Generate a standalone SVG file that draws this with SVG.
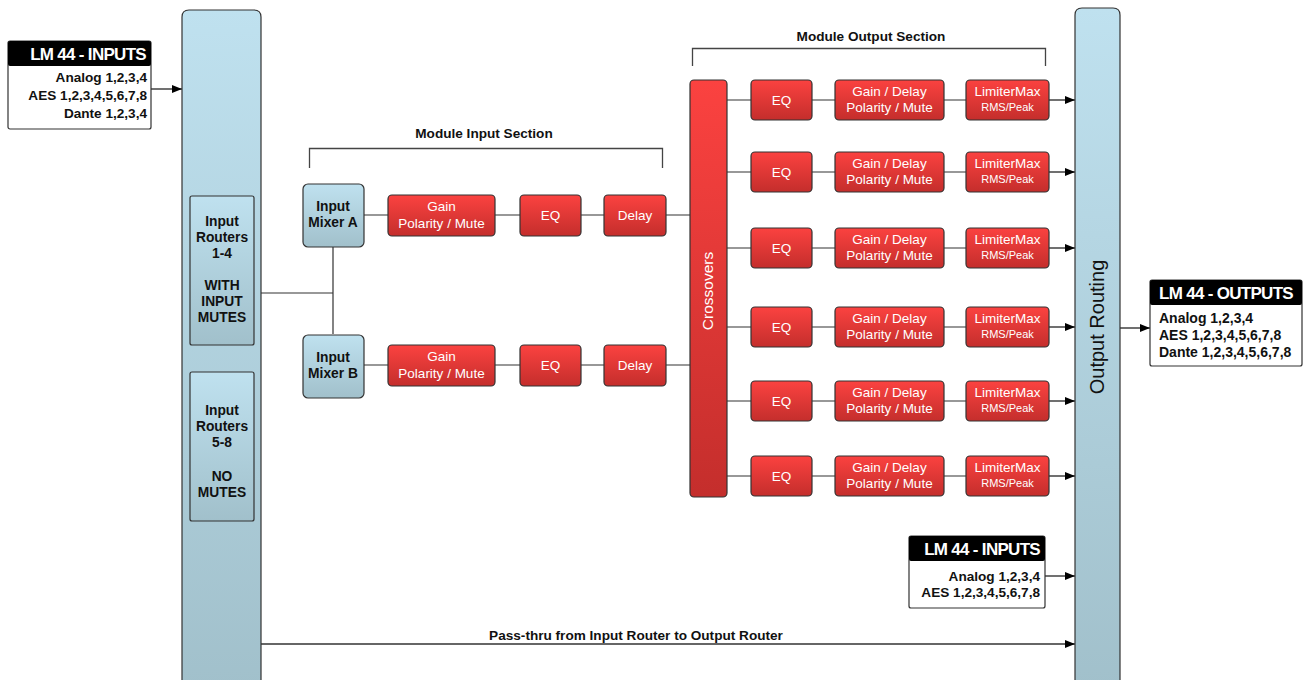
<svg xmlns="http://www.w3.org/2000/svg" width="1303" height="680" viewBox="0 0 1303 680">
<defs>
<linearGradient id="blue" x1="0" y1="0" x2="0" y2="1"><stop offset="0" stop-color="#bfe1ef"/><stop offset="1" stop-color="#a1c0cb"/></linearGradient>
<linearGradient id="red" x1="0" y1="0" x2="0" y2="1"><stop offset="0" stop-color="#fb4240"/><stop offset="1" stop-color="#c42e2c"/></linearGradient>
<marker id="arr" viewBox="0 0 10 8" refX="10" refY="4" markerWidth="10" markerHeight="8" markerUnits="userSpaceOnUse" orient="auto"><path d="M0,0 L10,4 L0,8 Z" fill="#000"/></marker>
<style>
.col{fill:url(#blue);stroke:#333;stroke-width:1.2}
.bn{fill:url(#blue);stroke:#333;stroke-width:1.2}
.rn{fill:url(#red);stroke:#333;stroke-width:1.2}
.bt{font-family:"Liberation Sans",Arial,sans-serif;font-weight:bold;font-size:13.8px;fill:#111;text-anchor:middle}
.wt{font-family:"Liberation Sans",Arial,sans-serif;font-size:13.5px;fill:#fff;text-anchor:middle}
.st{font-family:"Liberation Sans",Arial,sans-serif;font-size:11px;fill:#fff;text-anchor:middle}
.hd{font-family:"Liberation Sans",Arial,sans-serif;font-weight:bold;font-size:17px;fill:#fff;letter-spacing:-0.7px}
.lb{font-family:"Liberation Sans",Arial,sans-serif;font-weight:bold;font-size:13.6px;fill:#111}
.lo{font-family:"Liberation Sans",Arial,sans-serif;font-weight:bold;font-size:14px;fill:#111}
.sec{font-family:"Liberation Sans",Arial,sans-serif;font-weight:bold;font-size:13.6px;fill:#111;text-anchor:middle}
.ln{fill:none;stroke:#333;stroke-width:1.2}
.la{fill:none;stroke:#111;stroke-width:1.2;marker-end:url(#arr)}
</style>
</defs>
<rect width="1303" height="680" fill="#fff"/>

<g id="connectors">
<path class="la" d="M151,89 H182"/>
<path class="ln" d="M254,293 H333 M333,247 V334"/>
<path class="ln" d="M364,215 H388 M495,215 H520 M581,215 H604 M666,215 H690"/>
<path class="ln" d="M364,365 H388 M495,365 H520 M581,365 H604 M666,365 H690"/>
<path class="ln" d="M727,100 H751 M812,100 H835 M944,100 H966"/>
<path class="ln" d="M727,172 H751 M812,172 H835 M944,172 H966"/>
<path class="ln" d="M727,248 H751 M812,248 H835 M944,248 H966"/>
<path class="ln" d="M727,327 H751 M812,327 H835 M944,327 H966"/>
<path class="ln" d="M727,401 H751 M812,401 H835 M944,401 H966"/>
<path class="ln" d="M727,476 H751 M812,476 H835 M944,476 H966"/>
<path class="la" d="M1049,100 H1075"/>
<path class="la" d="M1049,172 H1075"/>
<path class="la" d="M1049,248 H1075"/>
<path class="la" d="M1049,327 H1075"/>
<path class="la" d="M1049,401 H1075"/>
<path class="la" d="M1049,476 H1075"/>
<path class="la" d="M1119,328 H1150"/>
<path class="la" d="M1045,576 H1075"/>
<path d="M261,644 H1075" fill="none" stroke="#666" stroke-width="2" marker-end="url(#arr)"/>
<text class="sec" x="636" y="640">Pass-thru from Input Router to Output Router</text>
</g>

<g id="bracket-input">
<path d="M309.5,168 V148.5 H662.5 V168" fill="none" stroke="#444" stroke-width="1.3"/>
<text class="sec" x="484" y="138">Module Input Section</text>
</g>
<g id="bracket-output">
<path d="M692.5,66 V48.5 H1045.5 V66" fill="none" stroke="#444" stroke-width="1.3"/>
<text class="sec" x="871" y="41">Module Output Section</text>
</g>

<g id="input-column"><path class="col" d="M182,690 V17 Q182,10 189,10 H254 Q261,10 261,17 V690 Z"/></g>
<g id="output-routing">
<path class="col" d="M1075,690 V15 Q1075,8 1082,8 H1113 Q1120,8 1120,15 V690 Z"/>
<text transform="translate(1103.5,327) rotate(-90)" font-family="Liberation Sans, Arial, sans-serif" font-size="20" fill="#111" text-anchor="middle">Output Routing</text>
</g>

<g id="lm44-inputs">
<rect x="8" y="41" width="143" height="88" rx="2" fill="#fff" stroke="#333" stroke-width="1.2"/>
<rect x="8" y="41" width="143" height="25" rx="2" fill="#000"/>
<text class="hd" x="146" y="60" text-anchor="end">LM 44 - INPUTS</text>
<text class="lb" x="147" y="82" text-anchor="end">Analog 1,2,3,4</text>
<text class="lb" x="147" y="100" text-anchor="end">AES 1,2,3,4,5,6,7,8</text>
<text class="lb" x="147" y="118" text-anchor="end">Dante 1,2,3,4</text>
</g>

<g id="routers-1-4">
<rect class="bn" x="190" y="196" width="64" height="149" rx="2"/>
<text class="bt" x="222" y="226">Input</text>
<text class="bt" x="222" y="242">Routers</text>
<text class="bt" x="222" y="258">1-4</text>
<text class="bt" x="222" y="290">WITH</text>
<text class="bt" x="222" y="306">INPUT</text>
<text class="bt" x="222" y="322">MUTES</text>
</g>
<g id="routers-5-8">
<rect class="bn" x="190" y="372" width="64" height="149" rx="2"/>
<text class="bt" x="222" y="415">Input</text>
<text class="bt" x="222" y="431">Routers</text>
<text class="bt" x="222" y="447">5-8</text>
<text class="bt" x="222" y="481">NO</text>
<text class="bt" x="222" y="497">MUTES</text>
</g>

<g id="mixer-a">
<rect class="bn" x="303" y="184" width="61" height="63" rx="5"/>
<text class="bt" x="333" y="211">Input</text>
<text class="bt" x="333" y="227">Mixer A</text>
</g>
<g id="mixer-b">
<rect class="bn" x="303" y="335" width="61" height="63" rx="5"/>
<text class="bt" x="333" y="362">Input</text>
<text class="bt" x="333" y="378">Mixer B</text>
</g>

<g id="gain-a"><rect class="rn" x="388" y="195" width="107" height="41" rx="4"/><text class="wt" x="441.5" y="211">Gain</text><text class="wt" x="441.5" y="228">Polarity / Mute</text></g>
<g id="eq-a"><rect class="rn" x="520" y="195" width="61" height="41" rx="4"/><text class="wt" x="550.5" y="220">EQ</text></g>
<g id="delay-a"><rect class="rn" x="604" y="195" width="62" height="41" rx="4"/><text class="wt" x="635" y="220">Delay</text></g>

<g id="gain-b"><rect class="rn" x="388" y="345" width="107" height="41" rx="4"/><text class="wt" x="441.5" y="361">Gain</text><text class="wt" x="441.5" y="378">Polarity / Mute</text></g>
<g id="eq-b"><rect class="rn" x="520" y="345" width="61" height="41" rx="4"/><text class="wt" x="550.5" y="370">EQ</text></g>
<g id="delay-b"><rect class="rn" x="604" y="345" width="62" height="41" rx="4"/><text class="wt" x="635" y="370">Delay</text></g>

<g id="crossovers">
<rect class="rn" x="690" y="80" width="37" height="417" rx="4"/>
<text transform="translate(713,291) rotate(-90)" font-family="Liberation Sans, Arial, sans-serif" font-size="15.5" fill="#fff" text-anchor="middle">Crossovers</text>
</g>

<g id="out1">
<rect class="rn" x="751" y="80" width="61" height="40" rx="4"/><text class="wt" x="781.5" y="105">EQ</text>
<rect class="rn" x="835" y="80" width="109" height="40" rx="4"/><text class="wt" x="889.5" y="96">Gain / Delay</text><text class="wt" x="889.5" y="112">Polarity / Mute</text>
<rect class="rn" x="966" y="80" width="83" height="40" rx="4"/><text class="wt" x="1007.5" y="96">LimiterMax</text><text class="st" x="1007.5" y="111">RMS/Peak</text>
</g>
<g id="out2">
<rect class="rn" x="751" y="152" width="61" height="40" rx="4"/><text class="wt" x="781.5" y="177">EQ</text>
<rect class="rn" x="835" y="152" width="109" height="40" rx="4"/><text class="wt" x="889.5" y="168">Gain / Delay</text><text class="wt" x="889.5" y="184">Polarity / Mute</text>
<rect class="rn" x="966" y="152" width="83" height="40" rx="4"/><text class="wt" x="1007.5" y="168">LimiterMax</text><text class="st" x="1007.5" y="183">RMS/Peak</text>
</g>
<g id="out3">
<rect class="rn" x="751" y="228" width="61" height="40" rx="4"/><text class="wt" x="781.5" y="253">EQ</text>
<rect class="rn" x="835" y="228" width="109" height="40" rx="4"/><text class="wt" x="889.5" y="244">Gain / Delay</text><text class="wt" x="889.5" y="260">Polarity / Mute</text>
<rect class="rn" x="966" y="228" width="83" height="40" rx="4"/><text class="wt" x="1007.5" y="244">LimiterMax</text><text class="st" x="1007.5" y="259">RMS/Peak</text>
</g>
<g id="out4">
<rect class="rn" x="751" y="307" width="61" height="40" rx="4"/><text class="wt" x="781.5" y="332">EQ</text>
<rect class="rn" x="835" y="307" width="109" height="40" rx="4"/><text class="wt" x="889.5" y="323">Gain / Delay</text><text class="wt" x="889.5" y="339">Polarity / Mute</text>
<rect class="rn" x="966" y="307" width="83" height="40" rx="4"/><text class="wt" x="1007.5" y="323">LimiterMax</text><text class="st" x="1007.5" y="338">RMS/Peak</text>
</g>
<g id="out5">
<rect class="rn" x="751" y="381" width="61" height="40" rx="4"/><text class="wt" x="781.5" y="406">EQ</text>
<rect class="rn" x="835" y="381" width="109" height="40" rx="4"/><text class="wt" x="889.5" y="397">Gain / Delay</text><text class="wt" x="889.5" y="413">Polarity / Mute</text>
<rect class="rn" x="966" y="381" width="83" height="40" rx="4"/><text class="wt" x="1007.5" y="397">LimiterMax</text><text class="st" x="1007.5" y="412">RMS/Peak</text>
</g>
<g id="out6">
<rect class="rn" x="751" y="456" width="61" height="40" rx="4"/><text class="wt" x="781.5" y="481">EQ</text>
<rect class="rn" x="835" y="456" width="109" height="40" rx="4"/><text class="wt" x="889.5" y="472">Gain / Delay</text><text class="wt" x="889.5" y="488">Polarity / Mute</text>
<rect class="rn" x="966" y="456" width="83" height="40" rx="4"/><text class="wt" x="1007.5" y="472">LimiterMax</text><text class="st" x="1007.5" y="487">RMS/Peak</text>
</g>

<g id="lm44-outputs">
<rect x="1150" y="280" width="152" height="86" rx="2" fill="#fff" stroke="#333" stroke-width="1.2"/>
<rect x="1150" y="280" width="152" height="25" rx="2" fill="#000"/>
<text class="hd" x="1159" y="299">LM 44 - OUTPUTS</text>
<text class="lo" x="1159" y="323">Analog 1,2,3,4</text>
<text class="lo" x="1159" y="340">AES 1,2,3,4,5,6,7,8</text>
<text class="lo" x="1159" y="357">Dante 1,2,3,4,5,6,7,8</text>
</g>

<g id="lm44-inputs-2">
<rect x="909" y="536" width="136" height="72" rx="2" fill="#fff" stroke="#333" stroke-width="1.2"/>
<rect x="909" y="536" width="136" height="25" rx="2" fill="#000"/>
<text class="hd" x="1040" y="555" text-anchor="end">LM 44 - INPUTS</text>
<text class="lb" x="1040" y="581" text-anchor="end">Analog 1,2,3,4</text>
<text class="lb" x="1040" y="597" text-anchor="end">AES 1,2,3,4,5,6,7,8</text>
</g>
</svg>
